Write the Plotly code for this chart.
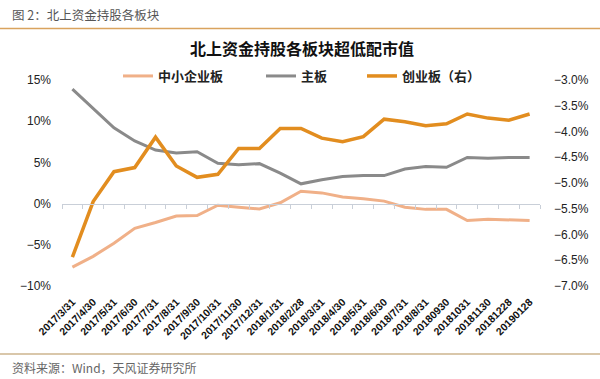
import plotly.graph_objects as go

categories = ["2017/3/31", "2017/4/30", "2017/5/31", "2017/6/30", "2017/7/31", "2017/8/31",
              "2017/9/30", "2017/10/31", "2017/11/30", "2017/12/31", "2018/1/31", "2018/2/28",
              "2018/3/31", "2018/4/30", "2018/5/31", "2018/6/30", "2018/7/31", "2018/8/31",
              "20180930", "20181031", "20181130", "20181228", "20190128"]

sme_board = [-7.7, -6.4, -4.8, -3.0, -2.3, -1.5, -1.45, -0.2, -0.45, -0.65, 0.1, 1.5,
             1.3, 0.8, 0.6, 0.3, -0.45, -0.7, -0.7, -2.05, -1.9, -1.95, -2.05]
main_board = [13.9, 11.6, 9.2, 7.6, 6.5, 6.15, 6.3, 4.9, 4.7, 4.85, 3.7, 2.4,
              2.9, 3.3, 3.4, 3.4, 4.2, 4.5, 4.4, 5.6, 5.5, 5.6, 5.6]
gem_board = [-6.44, -5.36, -4.78, -4.70, -4.11, -4.67, -4.89, -4.83, -4.33, -4.33, -3.94, -3.94,
             -4.13, -4.20, -4.10, -3.76, -3.81, -3.89, -3.85, -3.66, -3.74, -3.78, -3.66]

series_names = ["中小企业板", "主板", "创业板（右）"]
colors = ["#F0B088", "#8A8A8A", "#E28D1F"]

W, H = 600, 379
ML, MR, MT, MB = 62, 60, 80, 93
PW, PH = W - ML - MR, H - MT - MB


def px_x(x):
    return (x - ML) / PW


def px_y(y):
    return (H - MB - y) / PH


CJK = "Noto Sans CJK SC, Noto Sans, sans-serif"
LAT = "Liberation Sans, Arial, sans-serif"

fig = go.Figure()
fig.add_trace(go.Scatter(x=categories, y=sme_board, name=series_names[0], mode="lines",
                         line=dict(color=colors[0], width=3), legend="legend"))
fig.add_trace(go.Scatter(x=categories, y=main_board, name=series_names[1], mode="lines",
                         line=dict(color=colors[1], width=3), legend="legend2"))
fig.add_trace(go.Scatter(x=categories, y=gem_board, name=series_names[2], mode="lines",
                         line=dict(color=colors[2], width=3.5), yaxis="y2", legend="legend3"))
# carrier for the zero-positioned category axis (ticks only)
fig.add_trace(go.Scatter(x=categories, y=[None] * len(categories), xaxis="x2",
                         showlegend=False, hoverinfo="skip", mode="lines"))

legend_common = dict(orientation="h", yanchor="middle", y=px_y(76), xanchor="left",
                     bgcolor="rgba(0,0,0,0)",
                     font=dict(family=CJK, size=13, color="#222222", weight="bold"))

fig.update_layout(
    width=W, height=H,
    margin=dict(l=ML, r=MR, t=MT, b=MB),
    paper_bgcolor="white", plot_bgcolor="white",
    showlegend=True,
    legend=dict(x=px_x(118), **legend_common),
    legend2=dict(x=px_x(261), **legend_common),
    legend3=dict(x=px_x(362), **legend_common),
    xaxis=dict(type="category", categoryorder="array", categoryarray=categories,
               range=[-0.5, len(categories) - 0.5], showline=False, showgrid=False,
               zeroline=False, ticks="", tickangle=-45, automargin=False,
               ticklabelstandoff=7,
               tickfont=dict(family=LAT, size=10.5, color="#111111", weight="bold")),
    xaxis2=dict(type="category", categoryorder="array", categoryarray=categories,
                overlaying="x", matches="x", anchor="free", position=0.4,
                showline=True, linecolor="#C9CFD8", linewidth=1.2,
                ticks="outside", tickson="boundaries", ticklen=4, tickcolor="#C9CFD8",
                showticklabels=False, showgrid=False, zeroline=False),
    yaxis=dict(range=[-10, 15], dtick=5, ticksuffix="%", showgrid=False, zeroline=False,
               showline=False, ticks="", ticklabelstandoff=10, automargin=False,
               tickfont=dict(family=LAT, size=12, color="#222222")),
    yaxis2=dict(range=[-7, -3], dtick=0.5, tickformat=".1f", ticksuffix="%", overlaying="y",
                side="right", showgrid=False, zeroline=False, showline=False, ticks="",
                ticklabelstandoff=13, automargin=False,
                tickfont=dict(family=LAT, size=12, color="#222222")),
    shapes=[
        dict(type="line", xref="paper", yref="paper", x0=px_x(0), x1=px_x(W),
             y0=px_y(28.5), y1=px_y(28.5), line=dict(color="#D9A35E", width=1.5)),
        dict(type="line", xref="paper", yref="paper", x0=px_x(0), x1=px_x(W),
             y0=px_y(354), y1=px_y(354), line=dict(color="#CDB48E", width=1.5)),
    ],
    annotations=[
        dict(text="图 2：北上资金持股各板块", xref="paper", yref="paper", x=px_x(10), y=px_y(15),
             xanchor="left", yanchor="middle", showarrow=False,
             font=dict(family=CJK, size=12.5, color="#555555")),
        dict(text="北上资金持股各板块超低配市值", xref="paper", yref="paper", x=px_x(302),
             y=px_y(48), xanchor="center", yanchor="middle", showarrow=False,
             font=dict(family=CJK, size=16, color="#111111", weight="bold")),
        dict(text="资料来源：Wind，天风证券研究所", xref="paper", yref="paper", x=px_x(10),
             y=px_y(367), xanchor="left", yanchor="middle", showarrow=False,
             font=dict(family=CJK, size=12, color="#666666")),
    ],
)

fig.write_html("out.html", config={"displayModeBar": False},
               post_script="document.body.style.margin='0';document.body.style.padding='0';")
